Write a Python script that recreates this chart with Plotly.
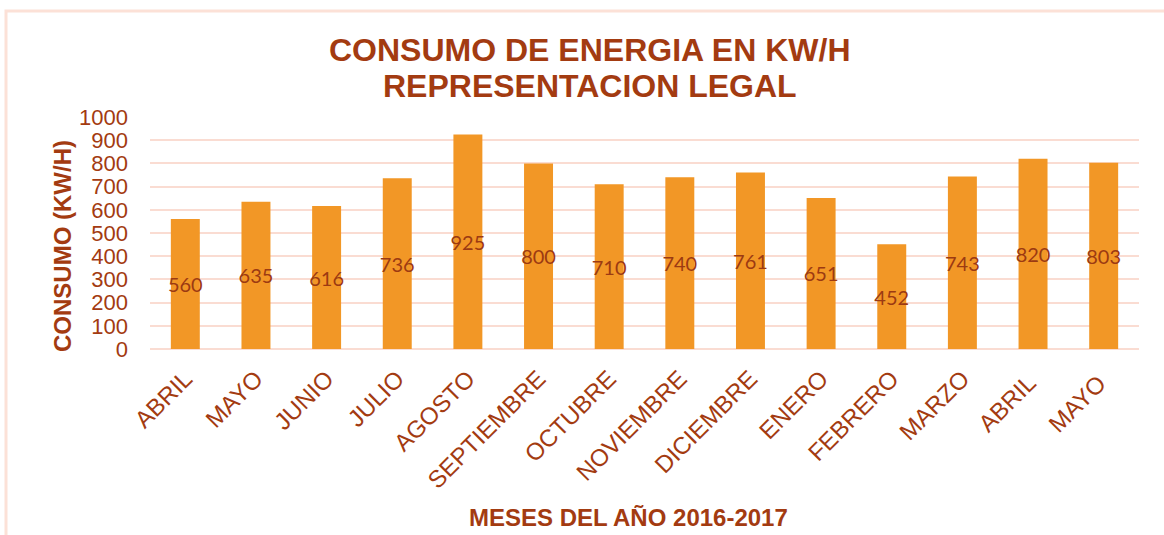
import plotly.graph_objects as go

months = ["ABRIL", "MAYO", "JUNIO", "JULIO", "AGOSTO", "SEPTIEMBRE", "OCTUBRE",
          "NOVIEMBRE", "DICIEMBRE", "ENERO", "FEBRERO", "MARZO", "ABRIL ", "MAYO "]
consumo = [560, 635, 616, 736, 925, 800, 710, 740, 761, 651, 452, 743, 820, 803]
tick_vals = [0, 100, 200, 300, 400, 500, 600, 700, 800, 900, 1000]

brown = "#A33B11"
ARIAL = "Liberation Sans, Arial, sans-serif"
W, H = 1164, 535
L, R, T, B = 150, 25, 117, 186   # plot area: x 150..1139, y 117..349

pw = W - L - R
ph = H - T - B
def px(x):
    return (x - L) / pw
def py(y):
    return (H - B - y) / ph

fig = go.Figure()
fig.add_trace(go.Bar(
    x=months, y=consumo,
    marker=dict(color="#F29726", line=dict(width=0)),
    text=[str(v) for v in consumo],
    textposition="inside",
    insidetextanchor="middle",
    textangle=0,
    constraintext="none",
    textfont=dict(family="Lato, Open Sans, sans-serif", size=20, color="#9C3A12"),
    cliponaxis=False,
))

fig.update_layout(
    width=W, height=H,
    margin=dict(l=L, r=R, t=T, b=B),
    paper_bgcolor="white", plot_bgcolor="white",
    bargap=0.59,
    showlegend=False,
    xaxis=dict(
        tickangle=-45,
        tickfont=dict(family=ARIAL, size=24, color=brown),
        showgrid=False, showline=False, ticks="",
        ticklabelstandoff=10,
    ),
    yaxis=dict(
        range=[0, 1000], tickvals=tick_vals,
        tickfont=dict(family=ARIAL, size=22, color=brown),
        showgrid=True, gridcolor="#FADCD2", gridwidth=2,
        zeroline=True, zerolinecolor="#FADCD2", zerolinewidth=2,
        ticks="", ticklabelstandoff=21,
    ),
    annotations=[
        dict(text="<b>CONSUMO DE ENERGIA EN KW/H</b>", xref="paper", yref="paper",
             x=px(590), y=py(50), xanchor="center", yanchor="middle", showarrow=False,
             font=dict(family=ARIAL, size=32, color=brown)),
        dict(text="<b>REPRESENTACION LEGAL</b>", xref="paper", yref="paper",
             x=px(590), y=py(86), xanchor="center", yanchor="middle", showarrow=False,
             font=dict(family=ARIAL, size=32, color=brown)),
        dict(text="<b>CONSUMO (KW/H)</b>", xref="paper", yref="paper", textangle=-90,
             x=px(62), y=py(246), xanchor="center", yanchor="middle", showarrow=False,
             font=dict(family=ARIAL, size=24, color=brown)),
        dict(text="<b>MESES DEL AÑO 2016-2017</b>", xref="paper", yref="paper",
             x=px(628), y=py(517), xanchor="center", yanchor="middle", showarrow=False,
             font=dict(family=ARIAL, size=24, color=brown)),
    ],
    shapes=[dict(
        type="rect", xref="paper", yref="paper",
        x0=px(6), x1=px(1180), y0=py(560), y1=py(11),
        line=dict(color="#FCE1D7", width=3), fillcolor="rgba(0,0,0,0)", layer="below",
    )],
)

fig.write_html("out.html", config={"displayModeBar": False},
               post_script="document.body.style.margin='0';")
